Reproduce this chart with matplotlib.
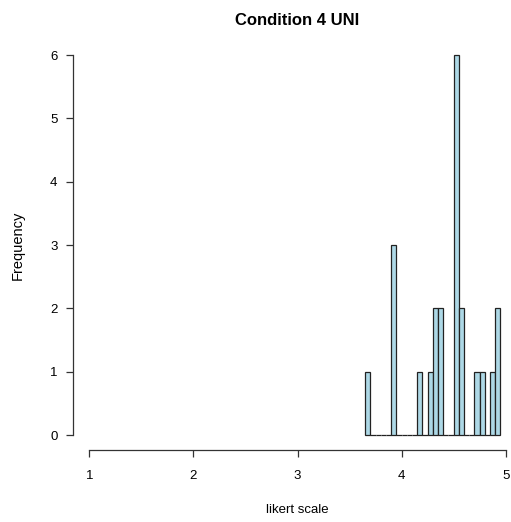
import numpy as np
import matplotlib
matplotlib.use("Agg")
import matplotlib.pyplot as plt

plt.rcParams['font.family'] = ['Liberation Sans', 'DejaVu Sans']

# Histogram data (bin edges 0.05 wide, counts)
bin_edges = [3.65, 3.70, 3.75, 3.80, 3.85, 3.90, 3.95, 4.00, 4.05, 4.10, 4.15,
             4.20, 4.25, 4.30, 4.35, 4.40, 4.45, 4.50, 4.55, 4.60, 4.65, 4.70,
             4.75, 4.80, 4.85, 4.90, 4.95]
counts = [1, 0, 0, 0, 0, 3, 0, 0, 0, 0, 1, 0, 1, 2, 2, 0, 0, 6, 2, 0, 0, 1, 1, 0, 1, 2]
x_ticks = [1, 2, 3, 4, 5]
y_ticks = [0, 1, 2, 3, 4, 5, 6]

W, H = 511, 522
fig = plt.figure(figsize=(W / 100, H / 100), dpi=100)

# R-style plot region (4% padding around xlim 1..5, ylim 0..6)
left, right = 72.7, 522.3
top, bottom = 39.8, 450.2
ax = fig.add_axes([left / W, (H - bottom) / H, (right - left) / W, (bottom - top) / H])
ax.set_xlim(0.84, 5.16)
ax.set_ylim(-0.24, 6.24)

edges = np.array(bin_edges)
ax.bar(edges[:-1], counts, width=np.diff(edges), align='edge',
       color='#ADD8E6', edgecolor='#222222', linewidth=0.9)

for s in ['top', 'right']:
    ax.spines[s].set_visible(False)
ax.spines['left'].set_bounds(0, 6)
ax.spines['bottom'].set_bounds(1, 5)
for s in ['left', 'bottom']:
    ax.spines[s].set_color('#333333')
    ax.spines[s].set_linewidth(0.9)

ax.set_xticks(x_ticks)
ax.set_yticks(y_ticks)
ax.tick_params(direction='out', length=5, width=0.9, color='#333333',
               labelsize=9.5)
ax.tick_params(axis='x', pad=9)
ax.tick_params(axis='y', pad=6)

ax.set_title("Condition 4 UNI", fontsize=12, fontweight='bold', pad=11)
ax.set_xlabel("likert scale", fontsize=9.5, labelpad=16)
ax.set_ylabel("Frequency", fontsize=10.5, labelpad=18)

fig.savefig("out.png", dpi=100)
